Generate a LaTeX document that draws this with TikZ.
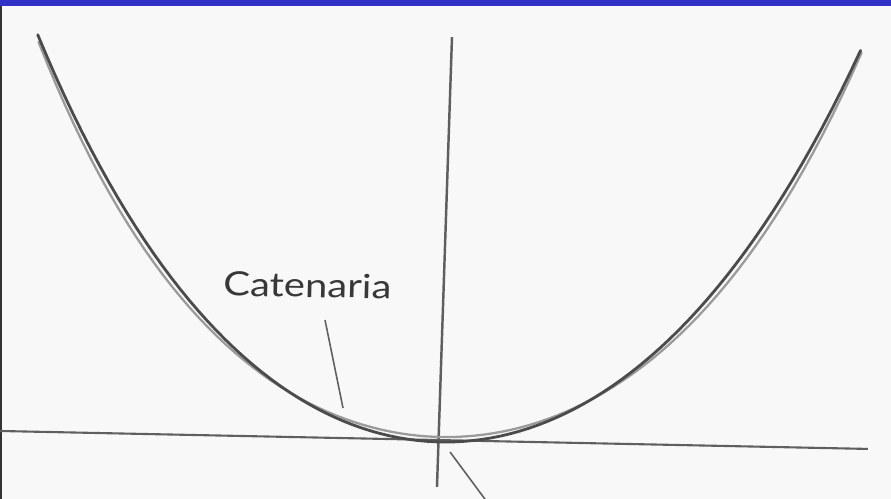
\documentclass[tikz,border=0pt]{standalone}
\usepackage{fontspec}
\usepackage{tikz}
\newfontfamily\labelfont{Lato}
\definecolor{band}{RGB}{50,50,200}
\definecolor{paper}{RGB}{248,248,248}
\definecolor{inkdark}{RGB}{75,75,75}
\definecolor{inklight}{RGB}{155,155,155}
\definecolor{inkaxis}{RGB}{95,95,95}

\begin{document}
\begin{tikzpicture}[
      x=0.02cm, y=0.02cm,
      curvedark/.style={draw=inkdark, line width=1.6pt, line cap=round},
      curvelight/.style={draw=inklight, line width=1.3pt, line cap=round},
      axisline/.style={draw=inkaxis, line width=1.2pt},
      pointer/.style={draw=inkaxis, line width=0.9pt},
      lbl/.style={font=\labelfont\fontsize{19}{19}\selectfont, text=black!78, inner sep=0pt}
    ]
    \useasboundingbox (0,0) rectangle (891,499);
    \clip (0,0) rectangle (891,499);
    \fill[paper] (0,0) rectangle (891,499);
    \fill[band] (0,493) rectangle (891,499);
    \fill[black!80] (0,0) rectangle (2,493);
    % scanned figure, slightly tilted
    \begin{scope}[shift={(440,59)}, rotate=-1.25]
      \draw[axisline] (-450,-0.6) -- (428,0.4);
      \draw[axisline, line width=1.4pt] (3.2,403) -- (-2,-47);
      % two curves: light one first, dark one on top
      \draw[curvelight] plot[domain=-410:413, samples=90] (\x,{167.8*(cosh(\x/220)-1)+3});
      \draw[curvedark] plot[domain=-411:412, samples=90] (\x,{310*(cosh(\x/280)-1)-2});
      \node[lbl, anchor=base, xscale=1.2, rotate=-1.25] (catlabel) at (-136,140) {Catenaria};
      \coordinate (cattail) at (-117.6,117.5);
      \coordinate (cattip) at (-97.7,29.9);
      \draw[pointer] (cattail) -- (cattip);
      \coordinate (partip) at (10.3,-11.8);
      \coordinate (partail) at (50,-63);
      \draw[pointer] (partip) -- (partail);
    \end{scope}
  \end{tikzpicture}
\end{document}
